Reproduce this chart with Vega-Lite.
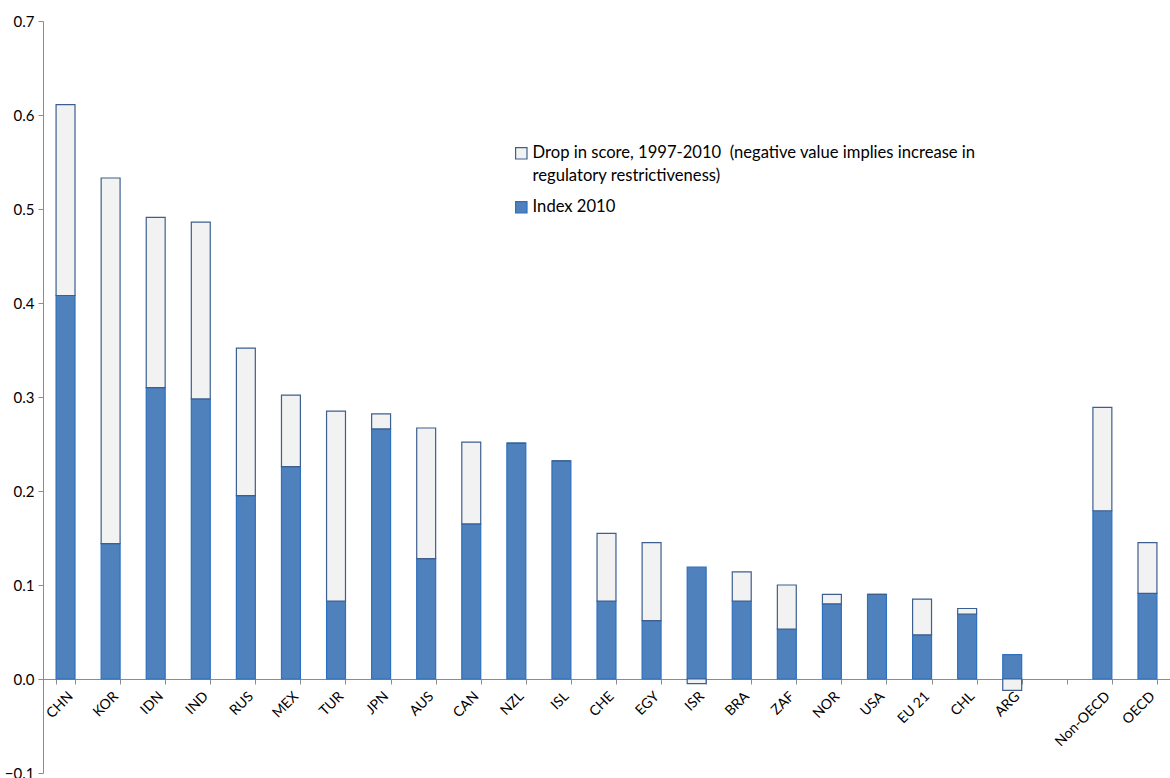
{
  "$schema": "https://vega.github.io/schema/vega-lite/v6.json",
  "width": 1127,
  "height": 752,
  "autosize": {"type": "none"},
  "padding": {"left": 43, "top": 21, "right": 0, "bottom": 5},
  "background": "white",
  "config": {
    "font": "Lato",
    "view": {"stroke": null},
    "style": {"guide-label": {"lineHeight": 23}}
  },
  "data": {
    "values": [
      {"country": "CHN", "series": "Index 2010", "value": 0.408},
      {"country": "CHN", "series": "Drop", "value": 0.203},
      {"country": "KOR", "series": "Index 2010", "value": 0.144},
      {"country": "KOR", "series": "Drop", "value": 0.389},
      {"country": "IDN", "series": "Index 2010", "value": 0.310},
      {"country": "IDN", "series": "Drop", "value": 0.181},
      {"country": "IND", "series": "Index 2010", "value": 0.298},
      {"country": "IND", "series": "Drop", "value": 0.188},
      {"country": "RUS", "series": "Index 2010", "value": 0.195},
      {"country": "RUS", "series": "Drop", "value": 0.157},
      {"country": "MEX", "series": "Index 2010", "value": 0.226},
      {"country": "MEX", "series": "Drop", "value": 0.076},
      {"country": "TUR", "series": "Index 2010", "value": 0.083},
      {"country": "TUR", "series": "Drop", "value": 0.202},
      {"country": "JPN", "series": "Index 2010", "value": 0.266},
      {"country": "JPN", "series": "Drop", "value": 0.016},
      {"country": "AUS", "series": "Index 2010", "value": 0.128},
      {"country": "AUS", "series": "Drop", "value": 0.139},
      {"country": "CAN", "series": "Index 2010", "value": 0.165},
      {"country": "CAN", "series": "Drop", "value": 0.087},
      {"country": "NZL", "series": "Index 2010", "value": 0.251},
      {"country": "NZL", "series": "Drop", "value": 0.0},
      {"country": "ISL", "series": "Index 2010", "value": 0.232},
      {"country": "ISL", "series": "Drop", "value": 0.0},
      {"country": "CHE", "series": "Index 2010", "value": 0.083},
      {"country": "CHE", "series": "Drop", "value": 0.072},
      {"country": "EGY", "series": "Index 2010", "value": 0.062},
      {"country": "EGY", "series": "Drop", "value": 0.083},
      {"country": "ISR", "series": "Index 2010", "value": 0.119},
      {"country": "ISR", "series": "Drop", "value": -0.005},
      {"country": "BRA", "series": "Index 2010", "value": 0.083},
      {"country": "BRA", "series": "Drop", "value": 0.031},
      {"country": "ZAF", "series": "Index 2010", "value": 0.053},
      {"country": "ZAF", "series": "Drop", "value": 0.047},
      {"country": "NOR", "series": "Index 2010", "value": 0.080},
      {"country": "NOR", "series": "Drop", "value": 0.010},
      {"country": "USA", "series": "Index 2010", "value": 0.090},
      {"country": "USA", "series": "Drop", "value": 0.0},
      {"country": "EU 21", "series": "Index 2010", "value": 0.047},
      {"country": "EU 21", "series": "Drop", "value": 0.038},
      {"country": "CHL", "series": "Index 2010", "value": 0.069},
      {"country": "CHL", "series": "Drop", "value": 0.006},
      {"country": "ARG", "series": "Index 2010", "value": 0.026},
      {"country": "ARG", "series": "Drop", "value": -0.012},
      {"country": "Non-OECD", "series": "Index 2010", "value": 0.179},
      {"country": "Non-OECD", "series": "Drop", "value": 0.110},
      {"country": "OECD", "series": "Index 2010", "value": 0.091},
      {"country": "OECD", "series": "Drop", "value": 0.054}
    ]
  },
  "transform": [
    {"calculate": "datum.series == 'Index 2010' ? 0 : 1", "as": "ord"}
  ],
  "mark": {"type": "bar", "strokeWidth": 1.2},
  "encoding": {
    "x": {
      "field": "country",
      "type": "nominal",
      "scale": {
        "domain": ["CHN", "KOR", "IDN", "IND", "RUS", "MEX", "TUR", "JPN", "AUS", "CAN", "NZL", "ISL", "CHE", "EGY", "ISR", "BRA", "ZAF", "NOR", "USA", "EU 21", "CHL", "ARG", "", "Non-OECD", "OECD"],
        "paddingInner": 0.58,
        "paddingOuter": 0.29
      },
      "axis": {
        "title": null,
        "offset": -94,
        "labelAngle": -45,
        "labelFontSize": 14,
        "labelColor": "#000000",
        "labelPadding": 5,
        "domainColor": "#8c8c8c",
        "tickColor": "#8c8c8c",
        "tickSize": 5,
        "tickBand": "extent",
        "zindex": 0
      }
    },
    "y": {
      "field": "value",
      "type": "quantitative",
      "stack": "zero",
      "scale": {"domain": [-0.1, 0.7], "nice": false, "zero": false},
      "axis": {
        "title": null,
        "values": [-0.1, 0, 0.1, 0.2, 0.3, 0.4, 0.5, 0.6, 0.7],
        "format": ".1f",
        "grid": false,
        "labelFontSize": 15,
        "labelColor": "#000000",
        "labelPadding": 4,
        "domainColor": "#8c8c8c",
        "tickColor": "#8c8c8c",
        "tickSize": 5
      }
    },
    "order": {"field": "ord", "type": "quantitative"},
    "fill": {
      "field": "series",
      "type": "nominal",
      "scale": {"domain": ["Drop", "Index 2010"], "range": ["#f2f2f2", "#4f81bd"]},
      "legend": {
        "title": null,
        "orient": "none",
        "legendX": 470,
        "legendY": 124,
        "symbolType": "square",
        "symbolSize": 130,
        "symbolStrokeWidth": 1.2,
        "labelFontSize": 16.6,
        "labelColor": "#000000",
        "labelLimit": 600,
        "rowPadding": 14,
        "labelOffset": 3,
        "labelExpr": "datum.label == 'Drop' ? ['Drop in score, 1997-2010 \u00a0(negative value implies increase in', 'regulatory restrictiveness)'] : datum.label"
      }
    },
    "stroke": {
      "field": "series",
      "type": "nominal",
      "scale": {"domain": ["Drop", "Index 2010"], "range": ["#3d5f8f", "#2d6fc0"]}
    }
  }
}
